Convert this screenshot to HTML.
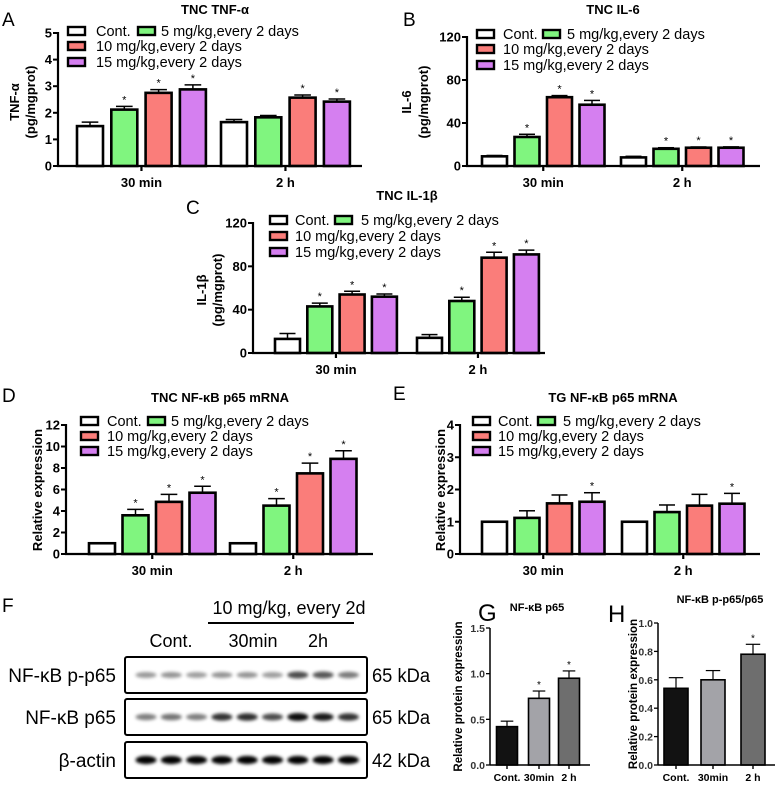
<!DOCTYPE html>
<html><head><meta charset="utf-8"><style>
html,body{margin:0;padding:0;background:#fff;}
svg{display:block;font-family:"Liberation Sans",Arial,sans-serif;}
.b{font-weight:bold;}
</style></head><body>
<svg id="fig" width="778" height="785" viewBox="0 0 778 785" xmlns="http://www.w3.org/2000/svg">
<defs><filter id="blur" x="-20%" y="-100%" width="140%" height="300%"><feGaussianBlur stdDeviation="1.5"/></filter></defs>
</svg>
<script>
const NS='http://www.w3.org/2000/svg';
const svg=document.getElementById('fig');
function el(tag,attrs,parent,text){const e=document.createElementNS(NS,tag);for(const k in attrs)e.setAttribute(k,attrs[k]);if(text!==undefined)e.textContent=text;(parent||svg).appendChild(e);return e;}

// ---- data ----
const groupCats=['30 min','2 h'];
const legendLabels=['Cont.','5 mg/kg,every 2 days','10 mg/kg,every 2 days','15 mg/kg,every 2 days'];
const A_ticks=[0,1,2,3,4,5];
const A_30=[1.5,2.12,2.75,2.88];const A_30e=[0.15,0.12,0.12,0.17];const A_30s=[0,1,1,1];
const A_2h=[1.65,1.83,2.57,2.42];const A_2he=[0.1,0.07,0.1,0.1];const A_2hs=[0,0,1,1];
const B_ticks=[0,40,80,120];
const B_30=[9,27,64,57];const B_30e=[0.8,2.5,1.5,4];const B_30s=[0,1,1,1];
const B_2h=[8,16,17,17];const B_2he=[1,1,0.7,0.8];const B_2hs=[0,1,1,1];
const C_ticks=[0,40,80,120];
const C_30=[13,43,54,52];const C_30e=[5,3,3,2.5];const C_30s=[0,1,1,1];
const C_2h=[14,48,88,91];const C_2he=[3,3.5,5,4];const C_2hs=[0,1,1,1];
const D_ticks=[0,2,4,6,8,10,12];
const D_30=[1,3.6,4.85,5.7];const D_30e=[0,0.55,0.7,0.6];const D_30s=[0,1,1,1];
const D_2h=[1,4.5,7.5,8.85];const D_2he=[0,0.65,0.95,0.75];const D_2hs=[0,1,1,1];
const E_ticks=[0,1,2,3,4];
const E_30=[1,1.12,1.57,1.62];const E_30e=[0,0.22,0.26,0.28];const E_30s=[0,0,0,1];
const E_2h=[1,1.3,1.5,1.56];const E_2he=[0,0.22,0.35,0.32];const E_2hs=[0,0,0,1];
const G_cats=['Cont.','30min','2 h'];const G_ticks=['0.0','0.5','1.0','1.5'];
const G_vals=[0.42,0.73,0.95];const G_err=[0.06,0.08,0.08];const G_star=[0,1,1];
const H_cats=['Cont.','30min','2 h'];const H_ticks=['0.0','0.2','0.4','0.6','0.8','1.0'];
const H_vals=[0.54,0.60,0.78];const H_err=[0.075,0.065,0.07];const H_star=[0,0,1];
const lanes=['Cont.','Cont.','Cont.','30min','30min','30min','2h','2h','2h'];
const band_pp65=[0.4,0.42,0.38,0.42,0.42,0.38,0.7,0.66,0.52];
const band_p65=[0.5,0.55,0.5,0.8,0.82,0.7,0.95,0.9,0.8];
const band_actin=[1,1,1,1,1,1,1,1,1];

const fills=['#ffffff','#80f57f','#fa7d7a','#d57ff0'];

function groupChart(o){
  const g=el('g',{});
  const sy=v=>o.y0-(v/o.max)*(o.y0-o.yTop);
  el('text',{x:o.letter[0],y:o.letter[1],'font-size':19,},g,o.letterText);
  el('text',{x:o.titleX,y:o.titleY,'font-size':13,'text-anchor':'middle',class:'b',},g,o.title);
  o.ylab.forEach((t,i)=>{el('text',{x:0,y:0,'font-size':13,class:'b','text-anchor':'middle',transform:`translate(${o.ylabX[i]},${o.ylabY}) rotate(-90)`,},g,t);});
  o.groups.forEach((gr,gi)=>{
    const left=o.lefts[gi];
    gr.v.forEach((v,i)=>{
      const x=left+i*o.step, top=sy(v);
      const eTop=sy(v+gr.e[i]);
      if(gr.e[i]>0){
        el('line',{x1:x+o.w/2,x2:x+o.w/2,y1:top,y2:eTop,stroke:'#000','stroke-width':1.5},g);
        el('line',{x1:x+o.w/2-o.w*0.32,x2:x+o.w/2+o.w*0.32,y1:eTop,y2:eTop,stroke:'#000','stroke-width':1.5},g);
      }
      const r=el('rect',{x:x,y:top,width:o.w,height:o.y0-top,fill:o.colors[i],stroke:'#000','stroke-width':2.6},g);
      
      
      if(gr.s[i]){el('text',{x:x+o.w/2,y:eTop-3,'font-size':11,'text-anchor':'middle',},g,'*');}
    });
    const cx=left+((gr.v.length-1)*o.step+o.w)/2;
    el('line',{x1:cx,x2:cx,y1:o.y0,y2:o.y0+5,stroke:'#000','stroke-width':2.2},g);
    el('text',{x:cx,y:o.y0+21,'font-size':13,class:'b','text-anchor':'middle',},g,o.cats[gi]);
  });
  el('line',{x1:o.axX,x2:o.axX,y1:o.yTop-1,y2:o.y0+1,stroke:'#000','stroke-width':2.2,},g);
  el('line',{x1:o.axX-1,x2:o.xEnd,y1:o.y0,y2:o.y0,stroke:'#000','stroke-width':2.2,},g);
  o.ticks.forEach(t=>{const y=sy(t);
    el('line',{x1:o.axX-5,x2:o.axX,y1:y,y2:y,stroke:'#000','stroke-width':2},g);
    el('text',{x:o.axX-6,y:y+4.5,'font-size':13,class:'b','text-anchor':'end',},g,t);});
  const L=o.legend;
  const items=[[L.sx,L.tx,L.rows[0]],[L.sx2,L.tx2,L.rows[0]],[L.sx,L.tx,L.rows[1]],[L.sx,L.tx,L.rows[2]]];
  items.forEach((it,i)=>{
    const lg=el('g',{},g);
    el('rect',{x:it[0],y:it[2]-4,width:17,height:8,fill:o.colors[i],stroke:'#000','stroke-width':2.4},lg);
    el('text',{x:it[1],y:it[2]+5,'font-size':14.5},lg,legendLabels[i]);
  });
}

groupChart({name:'chart-a-tnf',letterText:'A',letter:[2,26],title:'TNC TNF-α',titleX:215,titleY:14,
  ylab:['TNF-α','(pg/mgprot)'],ylabX:[19,35],ylabY:102,
  axX:58,y0:166,yTop:33,max:5,ticks:A_ticks,xEnd:362,lefts:[77,221],step:34.3,w:26,colors:fills,cats:groupCats,
  groups:[{v:A_30,e:A_30e,s:A_30s},{v:A_2h,e:A_2he,s:A_2hs}],
  legend:{sx:68,tx:96,sx2:138,tx2:161,rows:[31,46,62]}});
groupChart({name:'chart-b-il6',letterText:'B',letter:[403,26],title:'TNC IL-6',titleX:613,titleY:14,
  ylab:['IL-6','(pg/mgprot)'],ylabX:[411,428],ylabY:102,
  axX:467,y0:166,yTop:37,max:120,ticks:B_ticks,xEnd:760,lefts:[482,621],step:32.5,w:25,colors:fills,cats:groupCats,
  groups:[{v:B_30,e:B_30e,s:B_30s},{v:B_2h,e:B_2he,s:B_2hs}],
  legend:{sx:477,tx:503,sx2:543,tx2:567,rows:[34,49,65]}});
groupChart({name:'chart-c-il1b',letterText:'C',letter:[186,214],title:'TNC IL-1β',titleX:407,titleY:200,
  ylab:['IL-1β','(pg/mgprot)'],ylabX:[206,222],ylabY:290,
  axX:253,y0:353,yTop:223,max:120,ticks:C_ticks,xEnd:545,lefts:[275,417],step:32.3,w:25,colors:fills,cats:groupCats,
  groups:[{v:C_30,e:C_30e,s:C_30s},{v:C_2h,e:C_2he,s:C_2hs}],
  legend:{sx:270,tx:295,sx2:335,tx2:361,rows:[220,236,252]}});
groupChart({name:'chart-d-nfkb-tnc',letterText:'D',letter:[2,402],title:'TNC NF-κB p65 mRNA',titleX:220,titleY:402,
  ylab:['Relative expression'],ylabX:[42],ylabY:490,
  axX:66,y0:554,yTop:425,max:12,ticks:D_ticks,xEnd:373,lefts:[89,230],step:33.5,w:26,colors:fills,cats:groupCats,
  groups:[{v:D_30,e:D_30e,s:D_30s},{v:D_2h,e:D_2he,s:D_2hs}],
  legend:{sx:81,tx:107,sx2:148,tx2:171,rows:[421,436,451]}});
groupChart({name:'chart-e-nfkb-tg',letterText:'E',letter:[393,400],title:'TG NF-κB p65 mRNA',titleX:613,titleY:402,
  ylab:['Relative expression'],ylabX:[445],ylabY:490,
  axX:460,y0:554,yTop:425,max:4,ticks:E_ticks,xEnd:760,lefts:[482,622],step:32.5,w:25,colors:fills,cats:groupCats,
  groups:[{v:E_30,e:E_30e,s:E_30s},{v:E_2h,e:E_2he,s:E_2hs}],
  legend:{sx:473,tx:498,sx2:538,tx2:563,rows:[421,436,451]}});

function simpleChart(o){
  const g=el('g',{});
  const sy=v=>o.y0-(v/o.max)*(o.y0-o.yTop);
  el('text',{x:o.letter[0],y:o.letter[1],'font-size':24,},g,o.letterText);
  el('text',{x:o.titleX,y:o.titleY,'font-size':11,'text-anchor':'middle',class:'b',},g,o.title);
  el('text',{x:0,y:0,'font-size':11.5,class:'b','text-anchor':'middle',transform:`translate(${o.ylabX},${(o.y0+o.yTop)/2}) rotate(-90)`,},g,'Relative protein expression');
  o.vals.forEach((v,i)=>{
    const cx=o.centers[i],x=cx-o.w/2,top=sy(v),eTop=sy(v+o.err[i]);
    el('line',{x1:cx,x2:cx,y1:top,y2:eTop,stroke:'#000','stroke-width':1.2},g);
    el('line',{x1:cx-o.w*0.3,x2:cx+o.w*0.3,y1:eTop,y2:eTop,stroke:'#000','stroke-width':1.2},g);
    const r=el('rect',{x:x,y:top,width:o.w,height:o.y0-top,fill:o.colors[i],stroke:'#000','stroke-width':1.6},g);
    
    
    if(o.star[i])el('text',{x:cx,y:eTop-3,'font-size':10,'text-anchor':'middle',},g,'*');
    el('line',{x1:cx,x2:cx,y1:o.y0,y2:o.y0+4,stroke:'#000','stroke-width':1.4},g);
    el('text',{x:cx,y:o.y0+16,'font-size':10.5,class:'b','text-anchor':'middle',},g,o.cats[i]);
  });
  el('line',{x1:o.axX,x2:o.axX,y1:o.yTop,y2:o.y0,stroke:'#000','stroke-width':1.5,},g);
  el('line',{x1:o.axX,x2:o.xEnd,y1:o.y0,y2:o.y0,stroke:'#000','stroke-width':1.5,},g);
  o.ticks.forEach(t=>{const y=sy(parseFloat(t));
    el('line',{x1:o.axX-4,x2:o.axX,y1:y,y2:y,stroke:'#000','stroke-width':1.3},g);
    el('text',{x:o.axX-5,y:y+4,'font-size':10.5,class:'b','text-anchor':'end',fill:'#333',},g,t);});
}
simpleChart({name:'chart-g-p65',letterText:'G',letter:[478,621],title:'NF-κB p65',titleX:537,titleY:611,ylabX:462,
  axX:490,y0:765,yTop:628,max:1.5,ticks:G_ticks,xEnd:590,centers:[507,539,569],w:21,vals:G_vals,err:G_err,star:G_star,
  colors:['#121212','#a3a3a8','#6e6e6e'],cats:G_cats});
simpleChart({name:'chart-h-pp65-ratio',letterText:'H',letter:[608,622],title:'NF-κB p-p65/p65',titleX:720,titleY:603,ylabX:637,
  axX:658,y0:765,yTop:623,max:1.0,ticks:H_ticks,xEnd:775,centers:[676,713,753],w:24,vals:H_vals,err:H_err,star:H_star,
  colors:['#121212','#a3a3a8','#6e6e6e'],cats:H_cats});

// ---- Western blot F ----
const wb=el('g',{});
el('text',{x:2,y:612,'font-size':19,},wb,'F');
el('text',{x:289,y:614,'font-size':18,'text-anchor':'middle',},wb,'10 mg/kg, every 2d');
el('line',{x1:208,x2:354,y1:623,y2:623,stroke:'#000','stroke-width':2},wb);
[['Cont.',171],['30min',253],['2h',318]].forEach(l=>el('text',{x:l[1],y:647,'font-size':18,'text-anchor':'middle',},wb,l[0]));
const rows=[{lab:'NF-κB p-p65',kda:'65 kDa',y:657,d:band_pp65},{lab:'NF-κB p65',kda:'65 kDa',y:699,d:band_p65},{lab:'β-actin',kda:'42 kDa',y:742,d:band_actin}];
rows.forEach(r=>{
  const rg=el('g',{},wb);
  el('text',{x:116,y:r.y+25,'font-size':19,'text-anchor':'end'},rg,r.lab);
  el('rect',{x:125,y:r.y,width:242,height:36,fill:'#fff',stroke:'#000','stroke-width':2,rx:2},rg);
  r.d.forEach((v,i)=>{
    const b=el('ellipse',{cx:146+i*25.3,cy:r.y+18,rx:10.5,ry:2.3+v*1.8,fill:'#000','fill-opacity':v,filter:'url(#blur)'},rg);
    
    
  });
  el('text',{x:372,y:r.y+25,'font-size':19,textLength:58,lengthAdjust:'spacingAndGlyphs'},rg,r.kda);
});
</script>
</body></html>
